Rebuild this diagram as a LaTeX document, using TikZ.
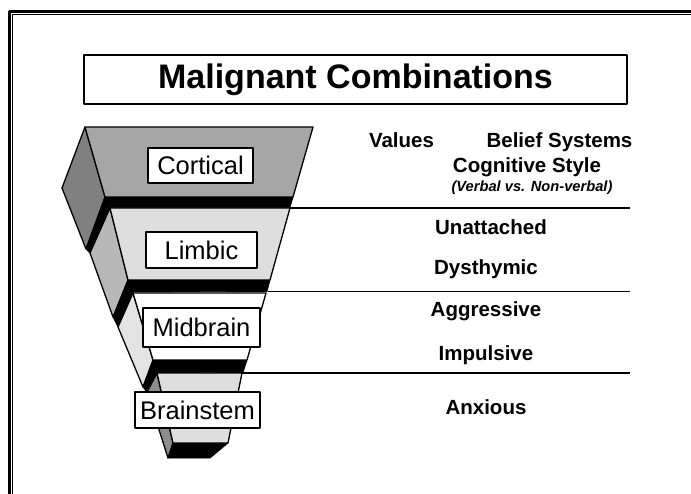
\documentclass[tikz,border=0pt]{standalone}
\usepackage{fontspec}
\setmainfont{Liberation Sans}
\begin{document}
\begin{tikzpicture}[x=1pt,y=-1pt,line join=round,
  edge/.style={draw=black,line width=1.3pt},
  blk/.style={fill=black,draw=black,line width=0.8pt},
  lbl/.style={draw=black,line width=1.4pt,fill=white,inner sep=0pt,font=\fontsize{25.5}{28}\selectfont},
  rtxt/.style={anchor=base,inner sep=0pt,font=\fontsize{20.5}{24}\selectfont\bfseries},
  sep/.style={draw=black,line width=1.2pt}]
\useasboundingbox (0,0) rectangle (691,494);
% frame
\draw[line width=2.5pt] (9.5,494) -- (9.5,11.3) -- (691,11.3);
\draw[line width=1.3pt] (12.7,494) -- (12.7,14.7) -- (691,14.7);
% title
\node[draw=black,line width=1.4pt,minimum width=543pt,minimum height=49pt,inner sep=0pt,
  font=\fontsize{34}{40}\selectfont\bfseries] (title) at (355.5,79.5) {Malignant Combinations};
% cortical slab
\fill[black!50,edge] (85,127) -- (62,188) -- (86,249) -- (105,197) -- cycle;
\path[blk] (86,249) -- (105,197) -- (293,197) -- (290,207.5) -- (110,207.5) -- (90,253) -- cycle;
\fill[black!35,edge] (85,127) -- (313,127) -- (293,197) -- (105,197) -- cycle;
% limbic slab
\fill[black!28,edge] (110,208) -- (90,253) -- (113,317) -- (128,280) -- cycle;
\path[blk] (113,317) -- (128,280) -- (270,280) -- (267,291.5) -- (133,292) -- (118,327) -- cycle;
\fill[black!13,edge] (110,208) -- (290,208) -- (270,280) -- (128,280) -- cycle;
% midbrain slab
\fill[black!11,edge] (133,293) -- (118,327) -- (143,387) -- (153,360) -- cycle;
\path[blk] (143,387) -- (153,360) -- (247,360) -- (243,372.5) -- (157,373) -- (146,391) -- cycle;
\fill[white,edge] (133,293) -- (266,293) -- (247,360) -- (153,360) -- cycle;
% brainstem slab
\fill[black!45,edge] (157,373) -- (147,392) -- (168,458) -- (173,443) -- cycle;
\path[blk] (168,458) -- (173,443) -- (228,443) -- (210,458) -- cycle;
\fill[black!13,edge] (157,373) -- (242,373) -- (228,443) -- (173,443) -- cycle;
% separator lines
\coordinate (s1a) at (290,208); \coordinate (s1b) at (630,208);
\coordinate (s2a) at (268,291.5); \coordinate (s2b) at (630,291.5);
\coordinate (s3a) at (242,373); \coordinate (s3b) at (630,373);
\draw[sep] (s1a) -- (s1b);
\draw[sep] (s2a) -- (s2b);
\draw[sep] (s3a) -- (s3b);
% labels
\node[lbl,minimum width=105pt,minimum height=35pt] (cort) at (200.5,165.5) {Cortical};
\node[lbl,minimum width=111pt,minimum height=36pt] (limb) at (201.5,250) {Limbic};
\node[lbl,minimum width=117pt,minimum height=39pt] (mid) at (201.5,327.5) {Midbrain};
\node[lbl,minimum width=125pt,minimum height=36pt] (brain) at (197.5,410) {Brainstem};
% right texts
\node[rtxt] (values) at (401.5,148) {Values};
\node[rtxt] (belief) at (559.5,148) {Belief Systems};
\node[rtxt] (cogn) at (527,173) {Cognitive Style};
\node[rtxt,font=\fontsize{14.7}{17}\selectfont\bfseries\itshape] (verbal) at (532,192) {(Verbal vs. Non-verbal)};
\node[rtxt] (unatt) at (491,235) {Unattached};
\node[rtxt] (dysth) at (486,275) {Dysthymic};
\node[rtxt] (aggr) at (486,317) {Aggressive};
\node[rtxt] (impul) at (486,361) {Impulsive};
\node[rtxt] (anx) at (486,414) {Anxious};
\end{tikzpicture}
\end{document}
